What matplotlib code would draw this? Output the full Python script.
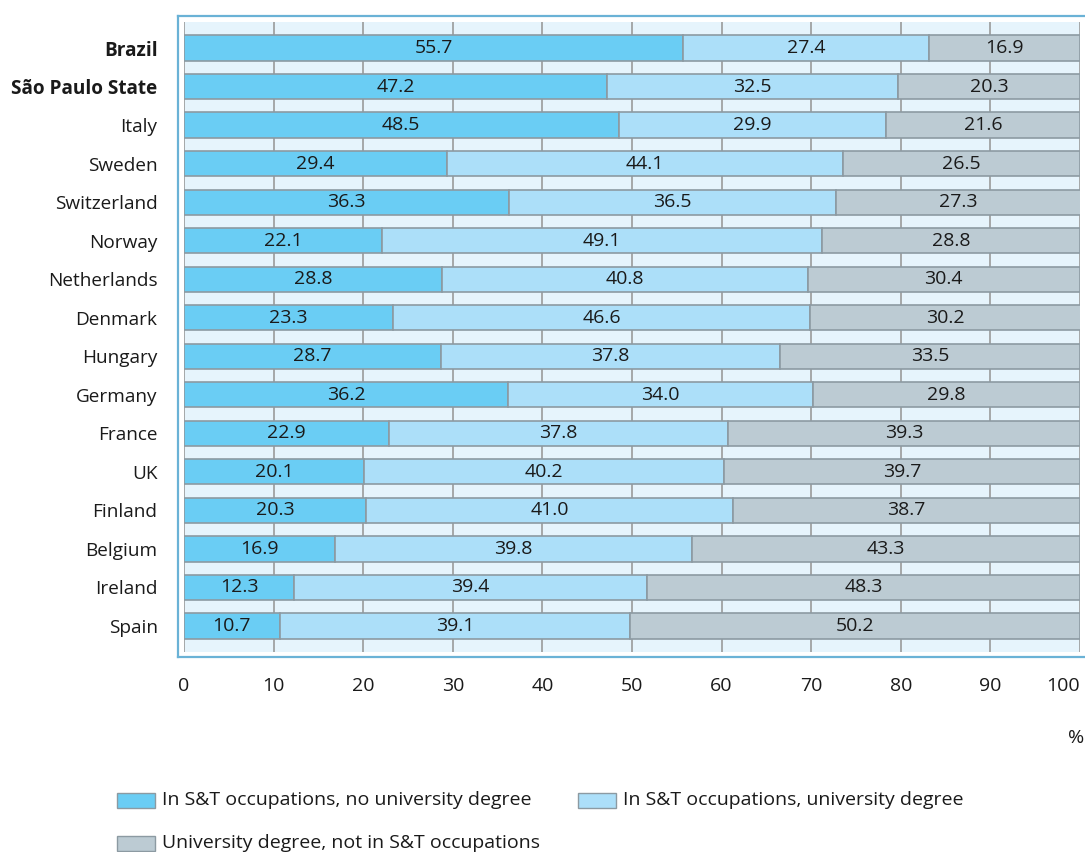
import numpy as np
import matplotlib.pyplot as plt
from matplotlib.patches import Rectangle
from matplotlib.lines import Line2D

plt.rcParams['font.family'] = ['Open Sans', 'DejaVu Sans']

# Share of population (%) by occupation / degree, top to bottom
countries = ["Brazil", "São Paulo State", "Italy", "Sweden", "Switzerland", "Norway",
             "Netherlands", "Denmark", "Hungary", "Germany", "France", "UK",
             "Finland", "Belgium", "Ireland", "Spain"]
st_no_degree = [55.7, 47.2, 48.5, 29.4, 36.3, 22.1, 28.8, 23.3, 28.7, 36.2,
                22.9, 20.1, 20.3, 16.9, 12.3, 10.7]
st_degree = [27.4, 32.5, 29.9, 44.1, 36.5, 49.1, 40.8, 46.6, 37.8, 34.0,
             37.8, 40.2, 41.0, 39.8, 39.4, 39.1]
degree_not_st = [16.9, 20.3, 21.6, 26.5, 27.3, 28.8, 30.4, 30.2, 33.5, 29.8,
                 39.3, 39.7, 38.7, 43.3, 48.3, 50.2]
bold_rows = ["Brazil", "São Paulo State"]

series = [st_no_degree, st_degree, degree_not_st]
names = ["In S&T occupations, no university degree",
         "In S&T occupations, university degree",
         "University degree, not in S&T occupations"]
colors = ["#6acdf4", "#acdff9", "#bccbd3"]

W, H = 1085, 852
fig = plt.figure(figsize=(W / 100, H / 100), dpi=100)

def fx(px):
    return px / W

def fy(py):
    return 1 - py / H

ax = fig.add_axes([fx(184), fy(652), fx(1080) - fx(184), fy(22) - fy(652)])
ax.set_facecolor("#e6f4fc")
for s in ax.spines.values():
    s.set_visible(False)

y = np.arange(len(countries))
left = np.zeros(len(countries))
for vals, col in zip(series, colors):
    vals = np.array(vals)
    ax.barh(y, vals, left=left, height=0.66, color=col, edgecolor="#8c9aa2",
            linewidth=1.2, zorder=2)
    for yi, (l, v) in enumerate(zip(left, vals)):
        ax.text(l + v / 2, yi, f"{v:.1f}", ha="center", va="center",
                fontsize=14, color="#1a1a1a", zorder=3)
    left += vals

ax.set_xlim(0, 100)
ax.set_ylim(len(countries) - 0.32, -0.68)
ax.set_xticks(np.arange(0, 101, 10))
ax.xaxis.grid(True, color="#9a9a9a", linewidth=1.2, zorder=1)
ax.set_axisbelow(True)
ax.set_yticks(y)
ax.set_yticklabels(countries)
for lab in ax.get_yticklabels():
    if lab.get_text() in bold_rows:
        lab.set_fontweight("bold")
ax.tick_params(axis="x", length=0, labelsize=14, colors="#1a1a1a", pad=18)
ax.tick_params(axis="y", length=0, labelsize=13.7, colors="#1a1a1a", pad=19)
ax.get_xticklabels()[-1].set_horizontalalignment("right")

# outer frame (left, top, bottom)
frame_col = "#6ab2d6"
fig.add_artist(Line2D([fx(177.5), fx(177.5)], [fy(16), fy(657)], color=frame_col, lw=1.6))
fig.add_artist(Line2D([fx(177.5), 1], [fy(16), fy(16)], color=frame_col, lw=1.6))
fig.add_artist(Line2D([fx(177.5), 1], [fy(657), fy(657)], color=frame_col, lw=1.6))

fig.text(fx(1076), fy(738), "%", ha="center", va="center", fontsize=14, color="#1a1a1a")

# legend
legend_pos = [(117, 800), (578, 800), (117, 843)]
for (px, py), name, col in zip(legend_pos, names, colors):
    fig.add_artist(Rectangle((fx(px), fy(py + 7.5)), fx(38), 15 / H,
                             facecolor=col, edgecolor="#8c9aa2", lw=1,
                             transform=fig.transFigure))
    fig.text(fx(px + 45), fy(py), name, ha="left", va="center",
             fontsize=14, color="#1a1a1a")

fig.savefig("out.png", dpi=100)
